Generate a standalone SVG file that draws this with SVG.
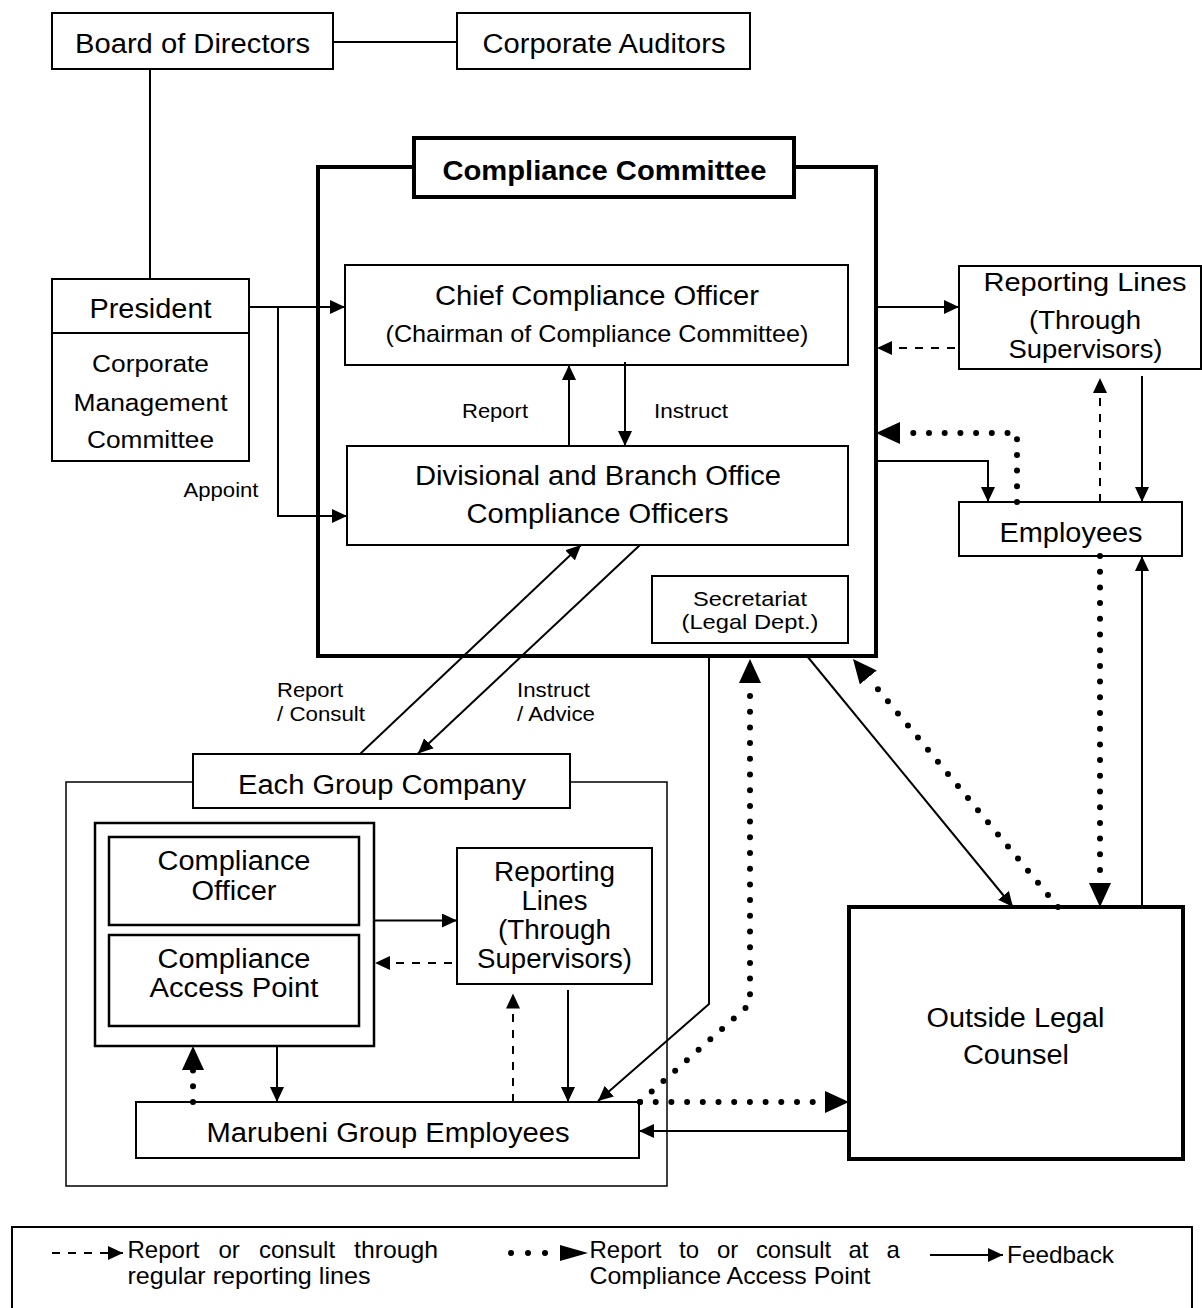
<svg xmlns="http://www.w3.org/2000/svg" width="1202" height="1308" viewBox="0 0 1202 1308">
<style>
text{font-family:"Liberation Sans",Arial,Helvetica,sans-serif;fill:#000}
.c{text-anchor:middle}
.f27{font-size:27px}
.f25{font-size:25px}
.f24{font-size:24px}
.f23{font-size:23px}
.f21{font-size:21px}
.b{font-weight:bold}
.box{fill:#fff;stroke:#000;stroke-width:2}
.bx25{fill:#fff;stroke:#000;stroke-width:2.5}
.thick{fill:#fff;stroke:#000;stroke-width:4}
.thin{fill:#fff;stroke:#000;stroke-width:1.5}
.ln{fill:none;stroke:#000;stroke-width:2}
.dash{fill:none;stroke:#000;stroke-width:2;stroke-dasharray:8 8}
.dot{fill:none;stroke:#000;stroke-width:6;stroke-dasharray:0 15.7;stroke-linecap:round}
</style>
<defs>
<marker id="arr" markerUnits="userSpaceOnUse" markerWidth="16" markerHeight="14" refX="15" refY="7" orient="auto"><path d="M0,0 L15,7 L0,14 z" fill="#000"/></marker>
<marker id="big" markerUnits="userSpaceOnUse" markerWidth="25" markerHeight="22" refX="0" refY="11" orient="auto"><path d="M0,0 L24,11 L0,22 z" fill="#000"/></marker>
<marker id="leg" markerUnits="userSpaceOnUse" markerWidth="29" markerHeight="18" refX="0" refY="8" orient="auto"><path d="M0,0 L28,8 L0,16 z" fill="#000"/></marker>
</defs>
<rect width="1202" height="1308" fill="#fff"/>

<g id="board"><rect class="box" x="52" y="13" width="281" height="56"/><text class="c f27" x="192.5" y="53" textLength="235" lengthAdjust="spacingAndGlyphs">Board of Directors</text></g>
<g id="auditors"><rect class="box" x="457" y="13" width="293" height="56"/><text class="c f27" x="604" y="53" textLength="243" lengthAdjust="spacingAndGlyphs">Corporate Auditors</text></g>
<g id="president"><rect class="box" x="52" y="279" width="197" height="182"/><line class="ln" x1="52" y1="333" x2="249" y2="333"/>
<text class="c f27" x="150.5" y="318" textLength="122" lengthAdjust="spacingAndGlyphs">President</text>
<text class="c f23" x="150.5" y="372" textLength="117" lengthAdjust="spacingAndGlyphs">Corporate</text>
<text class="c f23" x="150.5" y="411" textLength="154" lengthAdjust="spacingAndGlyphs">Management</text>
<text class="c f23" x="150.5" y="448" textLength="127" lengthAdjust="spacingAndGlyphs">Committee</text></g>

<g id="compliance-committee"><rect class="thick" x="318" y="167" width="558" height="489"/><rect class="thick" x="414" y="138" width="380" height="59"/><text class="c f27 b" x="604.5" y="180" textLength="324" lengthAdjust="spacingAndGlyphs">Compliance Committee</text></g>
<g id="cco"><rect class="box" x="345" y="265" width="503" height="100"/><text class="c f27" x="597" y="305" textLength="324" lengthAdjust="spacingAndGlyphs">Chief Compliance Officer</text><text class="c f24" x="597" y="342" textLength="423" lengthAdjust="spacingAndGlyphs">(Chairman of Compliance Committee)</text></g>
<g id="dbo"><rect class="box" x="347" y="446" width="501" height="99"/><text class="c f27" x="598" y="485" textLength="366" lengthAdjust="spacingAndGlyphs">Divisional and Branch Office</text><text class="c f27" x="597.5" y="523" textLength="262" lengthAdjust="spacingAndGlyphs">Compliance Officers</text></g>
<g id="secretariat"><rect class="box" x="652" y="576" width="196" height="67"/><text class="c f21" x="750" y="606" textLength="114" lengthAdjust="spacingAndGlyphs">Secretariat</text><text class="c f21" x="750" y="628.5" textLength="137" lengthAdjust="spacingAndGlyphs">(Legal Dept.)</text></g>

<g id="reporting-lines-top"><rect class="box" x="959" y="266" width="242" height="103"/>
<text class="c f25" x="1085" y="291" textLength="203" lengthAdjust="spacingAndGlyphs">Reporting Lines</text>
<text class="c f25" x="1085" y="329" textLength="112" lengthAdjust="spacingAndGlyphs">(Through</text>
<text class="c f25" x="1085.5" y="358" textLength="154" lengthAdjust="spacingAndGlyphs">Supervisors)</text></g>
<g id="employees"><rect class="box" x="959" y="502" width="223" height="54"/><text class="c f27" x="1071" y="542" textLength="143" lengthAdjust="spacingAndGlyphs">Employees</text></g>

<g id="group-company"><rect class="thin" x="66" y="782" width="601" height="404"/><rect class="box" x="193" y="754" width="377" height="54"/><text class="c f27" x="382" y="794" textLength="288" lengthAdjust="spacingAndGlyphs">Each Group Company</text></g>
<g id="compliance-container"><rect class="bx25" x="95" y="823" width="279" height="223"/></g>
<g id="compliance-officer"><rect class="bx25" x="109" y="837" width="250" height="88"/><text class="c f27" x="234" y="870" textLength="153" lengthAdjust="spacingAndGlyphs">Compliance</text><text class="c f27" x="234" y="899.5" textLength="85" lengthAdjust="spacingAndGlyphs">Officer</text></g>
<g id="compliance-access-point"><rect class="bx25" x="109" y="935" width="250" height="91"/><text class="c f27" x="234" y="967.5" textLength="153" lengthAdjust="spacingAndGlyphs">Compliance</text><text class="c f27" x="234" y="997" textLength="169" lengthAdjust="spacingAndGlyphs">Access Point</text></g>
<g id="reporting-lines-group"><rect class="box" x="457" y="848" width="195" height="136"/>
<text class="c f27" x="554.5" y="881" textLength="121" lengthAdjust="spacingAndGlyphs">Reporting</text>
<text class="c f27" x="554.5" y="909.5" textLength="66" lengthAdjust="spacingAndGlyphs">Lines</text>
<text class="c f27" x="554.5" y="938.5" textLength="113" lengthAdjust="spacingAndGlyphs">(Through</text>
<text class="c f27" x="554.5" y="968" textLength="155" lengthAdjust="spacingAndGlyphs">Supervisors)</text></g>
<g id="marubeni"><rect class="box" x="136" y="1102" width="503" height="56"/><text class="c f27" x="388" y="1142" textLength="363" lengthAdjust="spacingAndGlyphs">Marubeni Group Employees</text></g>
<g id="outside-legal"><rect class="thick" x="849" y="907" width="334" height="252"/><text class="c f27" x="1015.5" y="1026.5" textLength="178" lengthAdjust="spacingAndGlyphs">Outside Legal</text><text class="c f27" x="1016" y="1063.5" textLength="106" lengthAdjust="spacingAndGlyphs">Counsel</text></g>

<g id="labels">
<text class="c f21" x="495" y="418" textLength="66" lengthAdjust="spacingAndGlyphs">Report</text>
<text class="c f21" x="691" y="418" textLength="74" lengthAdjust="spacingAndGlyphs">Instruct</text>
<text class="c f21" x="221" y="497" textLength="75" lengthAdjust="spacingAndGlyphs">Appoint</text>
<text class="f21" x="277" y="697" textLength="66" lengthAdjust="spacingAndGlyphs">Report</text>
<text class="f21" x="277" y="721" textLength="88" lengthAdjust="spacingAndGlyphs">/ Consult</text>
<text class="f21" x="517" y="697" textLength="73" lengthAdjust="spacingAndGlyphs">Instruct</text>
<text class="f21" x="517" y="721" textLength="78" lengthAdjust="spacingAndGlyphs">/ Advice</text>
</g>

<g id="connectors">
<path class="ln" d="M150,69 V279"/>
<path class="ln" d="M333,42 H457"/>
<path class="ln" d="M249,307 H345" marker-end="url(#arr)"/>
<path class="ln" d="M278,307 V516 H347" marker-end="url(#arr)"/>
<path class="ln" d="M569,446 V365" marker-end="url(#arr)"/>
<path class="ln" d="M625,362 V446" marker-end="url(#arr)"/>
<path class="ln" d="M876,307 H959" marker-end="url(#arr)"/>
<path class="ln" d="M876,461 H988 V502" marker-end="url(#arr)"/>
<path class="ln" d="M1142,376 V502" marker-end="url(#arr)"/>
<path class="ln" d="M1142,907 V556" marker-end="url(#arr)"/>
<path class="ln" d="M360.5,753.5 L581,545" marker-end="url(#arr)"/>
<path class="ln" d="M640,545 L418,753.5" marker-end="url(#arr)"/>
<path class="ln" d="M807,656 L1013,907" marker-end="url(#arr)"/>
<path class="ln" d="M709,656 V1004 L598,1101" marker-end="url(#arr)"/>
<path class="ln" d="M849,1131 H639" marker-end="url(#arr)"/>
<path class="ln" d="M374,920.5 H457" marker-end="url(#arr)"/>
<path class="ln" d="M277,1046 V1102" marker-end="url(#arr)"/>
<path class="ln" d="M568,990 V1102" marker-end="url(#arr)"/>
<path class="dash" d="M955,348 H877" marker-end="url(#arr)"/>
<path class="dash" d="M1100,502 V378" marker-end="url(#arr)"/>
<path class="dash" d="M452,963 H375" marker-end="url(#arr)"/>
<path class="dash" d="M513,1102 V993.5" marker-end="url(#arr)"/>
<path class="dot" d="M1017,502 V433 H900" marker-end="url(#big)"/>
<path class="dot" d="M1100,556 V883" marker-end="url(#big)"/>
<path class="dot" d="M1058,907 L868.3,677.5" marker-end="url(#big)"/>
<path class="dot" d="M640,1102 L750,1004 V683" marker-end="url(#big)"/>
<path class="dot" d="M640,1102 H825" marker-end="url(#big)"/>
<path class="dot" d="M193,1102 V1070" marker-end="url(#big)"/>
</g>

<g id="legend">
<rect class="box" x="12" y="1227" width="1180" height="90"/>
<path class="dash" d="M52,1253 H123" marker-end="url(#arr)"/>
<text class="f24" x="127.5" y="1258">Report</text>
<text class="f24" x="218.5" y="1258">or</text>
<text class="f24" x="259" y="1258">consult</text>
<text class="f24" x="354" y="1258" textLength="84" lengthAdjust="spacingAndGlyphs">through</text>
<text class="f24" x="127.5" y="1284" textLength="243" lengthAdjust="spacingAndGlyphs">regular reporting lines</text>
<path class="dot" style="stroke-dasharray:0 17" d="M511,1253 H560" marker-end="url(#leg)"/>
<text class="f24" x="589.5" y="1258">Report</text>
<text class="f24" x="679" y="1258">to</text>
<text class="f24" x="717" y="1258">or</text>
<text class="f24" x="756" y="1258" textLength="75" lengthAdjust="spacingAndGlyphs">consult</text>
<text class="f24" x="848.5" y="1258">at</text>
<text class="f24" x="886.5" y="1258">a</text>
<text class="f24" x="589.5" y="1284" textLength="281" lengthAdjust="spacingAndGlyphs">Compliance Access Point</text>
<path class="ln" d="M930,1255 H1003" marker-end="url(#arr)"/>
<text class="f24" x="1007" y="1263" textLength="107" lengthAdjust="spacingAndGlyphs">Feedback</text>
</g>
</svg>
